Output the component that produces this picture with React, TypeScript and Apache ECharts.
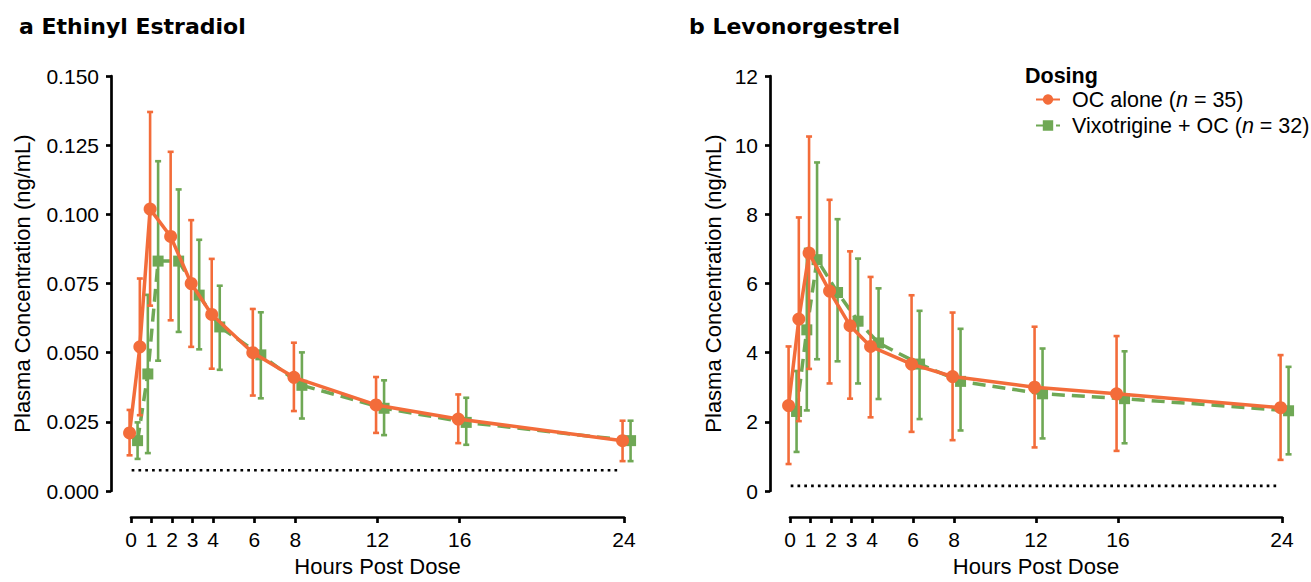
import React, { useEffect, useRef } from "react";
import * as echarts from "echarts";

// ---- data ----
const TIMES = [0, 0.5, 1, 2, 3, 4, 6, 8, 12, 16, 24];
const X_TICKS = [0, 1, 2, 3, 4, 6, 8, 12, 16, 24];

// Ethinyl estradiol (ng/mL)
const EE_OC_MEAN = [0.021, 0.0521, 0.1019, 0.092, 0.075, 0.0638, 0.05, 0.0411, 0.0311, 0.026, 0.0182];
const EE_OC_UPPER = [0.0293, 0.0768, 0.137, 0.1226, 0.0979, 0.0839, 0.0658, 0.0536, 0.0412, 0.0349, 0.0254];
const EE_OC_LOWER = [0.0129, 0.0274, 0.067, 0.0617, 0.0521, 0.0442, 0.0345, 0.0289, 0.021, 0.0173, 0.0108];
const EE_VX_MEAN = [0.0182, 0.0423, 0.0831, 0.0831, 0.0708, 0.0593, 0.0492, 0.0382, 0.0299, 0.0248, 0.0182];
const EE_VX_UPPER = [0.0248, 0.0709, 0.1192, 0.109, 0.0908, 0.0742, 0.0646, 0.0501, 0.04, 0.0337, 0.0254];
const EE_VX_LOWER = [0.0116, 0.0137, 0.0471, 0.0575, 0.0512, 0.0438, 0.0335, 0.0262, 0.0202, 0.0167, 0.0108];
const EE_LLOQ = 0.0075;

// Levonorgestrel (ng/mL)
const LNG_OC_MEAN = [2.47, 4.97, 6.88, 5.78, 4.78, 4.18, 3.67, 3.31, 3.0, 2.81, 2.41];
const LNG_OC_UPPER = [4.18, 7.91, 10.25, 8.42, 6.93, 6.19, 5.66, 5.16, 4.75, 4.48, 3.93];
const LNG_OC_LOWER = [0.78, 2.02, 3.53, 3.11, 2.67, 2.13, 1.71, 1.47, 1.26, 1.16, 0.9];
const LNG_VX_MEAN = [2.3, 4.66, 6.69, 5.74, 4.91, 4.28, 3.67, 3.17, 2.81, 2.67, 2.32];
const LNG_VX_UPPER = [3.47, 7.0, 9.5, 7.86, 6.72, 5.86, 5.21, 4.69, 4.12, 4.04, 3.59];
const LNG_VX_LOWER = [1.13, 2.33, 3.81, 3.75, 3.11, 2.66, 2.08, 1.75, 1.52, 1.38, 1.06];
const LNG_LLOQ = 0.15;

const SERIES_OC = "OC alone";
const SERIES_VX = "Vixotrigine + OC";
const TITLE_A = "a Ethinyl Estradiol";
const TITLE_B = "b Levonorgestrel";
const Y_NAME = "Plasma Concentration (ng/mL)";
const X_NAME = "Hours Post Dose";

// ---- style ----
const ORANGE = "#F36C3A";
const GREEN = "#6FA855";
const FONT = "'Liberation Sans', Arial, Helvetica, sans-serif";
const OC_SHIFT = -0.07; // horizontal nudge so the two groups do not overlap
const VX_SHIFT = 0.32;
const LLOQ_FROM = -0.63;
const LLOQ_TO = 23.8;

const pts = (mean: number[], shift: number) => TIMES.map((t, i) => [t + shift, mean[i]]);
const bars = (lo: number[], hi: number[], shift: number) =>
  TIMES.map((t, i) => [t + shift, lo[i], hi[i]]);

function errorBar(color: string) {
  return (_params: any, api: any) => {
    const x = api.value(0);
    const lo = api.coord([x, api.value(1)]);
    const hi = api.coord([x, api.value(2)]);
    const hw = 3;
    const style = { stroke: color, lineWidth: 2.6 };
    return {
      type: "group",
      children: [
        { type: "line", shape: { x1: hi[0], y1: hi[1], x2: lo[0], y2: lo[1] }, style },
        { type: "line", shape: { x1: hi[0] - hw, y1: hi[1], x2: hi[0] + hw, y2: hi[1] }, style },
        { type: "line", shape: { x1: lo[0] - hw, y1: lo[1], x2: lo[0] + hw, y2: lo[1] }, style },
      ],
    };
  };
}

function panelSeries(
  idx: number,
  oc: [number[], number[], number[]],
  vx: [number[], number[], number[]],
  lloq: number
) {
  const common = { xAxisIndex: idx, yAxisIndex: idx };
  return [
    {
      ...common,
      name: "LLOQ",
      type: "line",
      data: [
        [LLOQ_FROM, lloq],
        [LLOQ_TO, lloq],
      ],
      symbol: "none",
      clip: false,
      silent: true,
      lineStyle: { color: "#000", width: 2.7, type: [2.7, 4.1] },
      z: 1,
    },
    {
      ...common,
      name: SERIES_VX + " sd",
      type: "custom",
      renderItem: errorBar(GREEN),
      data: bars(vx[1], vx[2], VX_SHIFT),
      encode: { x: 0, y: [1, 2] },
      clip: false,
      silent: true,
      z: 2,
    },
    {
      ...common,
      name: SERIES_VX,
      type: "line",
      data: pts(vx[0], VX_SHIFT),
      symbol: "rect",
      symbolSize: 11,
      clip: false,
      itemStyle: { color: GREEN },
      lineStyle: { color: GREEN, width: 3.5, type: [13, 7] },
      z: 3,
    },
    {
      ...common,
      name: SERIES_OC + " sd",
      type: "custom",
      renderItem: errorBar(ORANGE),
      data: bars(oc[1], oc[2], OC_SHIFT),
      encode: { x: 0, y: [1, 2] },
      clip: false,
      silent: true,
      z: 4,
    },
    {
      ...common,
      name: SERIES_OC,
      type: "line",
      data: pts(oc[0], OC_SHIFT),
      symbol: "circle",
      symbolSize: 13,
      clip: false,
      itemStyle: { color: ORANGE },
      lineStyle: { color: ORANGE, width: 3.5 },
      z: 5,
    },
  ];
}

function xAxis(idx: number) {
  return {
    gridIndex: idx,
    type: "value",
    min: 0,
    max: 24,
    offset: 26,
    name: X_NAME,
    nameLocation: "middle",
    nameGap: 38,
    nameTextStyle: { fontFamily: FONT, fontSize: 22, color: "#000" },
    axisLine: { show: true, onZero: false, lineStyle: { color: "#000", width: 2.7 } },
    axisTick: { show: true, length: 6, customValues: X_TICKS, lineStyle: { color: "#000", width: 2.7 } },
    axisLabel: {
      customValues: X_TICKS,
      margin: 12,
      fontFamily: FONT,
      fontSize: 21,
      color: "#000",
    },
    splitLine: { show: false },
  };
}

function yAxis(idx: number, max: number, interval: number, digits: number, nameGap: number) {
  return {
    gridIndex: idx,
    type: "value",
    min: 0,
    max,
    interval,
    offset: 20,
    name: Y_NAME,
    nameLocation: "middle",
    nameGap,
    nameTextStyle: { fontFamily: FONT, fontSize: 22, color: "#000" },
    axisLine: { show: true, onZero: false, lineStyle: { color: "#000", width: 2.7 } },
    axisTick: { show: true, length: 5, lineStyle: { color: "#000", width: 2.7 } },
    axisLabel: {
      margin: 12,
      fontFamily: FONT,
      fontSize: 21,
      color: "#000",
      formatter: (v: number) => v.toFixed(digits),
    },
    splitLine: { show: false },
  };
}

export default function App() {
  const ref = useRef<HTMLDivElement>(null);
  useEffect(() => {
    document.body.style.margin = "0";
    if (!ref.current) return;
    const chart = echarts.init(ref.current, null, { renderer: "svg" });
    chart.setOption({
      animation: false,
      backgroundColor: "#fff",
      grid: [
        { left: 131, top: 76, width: 493, height: 420 },
        { left: 790, top: 76, width: 492, height: 420 },
      ],
      xAxis: [xAxis(0), xAxis(1)],
      yAxis: [yAxis(0, 0.15, 0.025, 3, 78), yAxis(1, 12, 2, 0, 46)],
      legend: {
        data: [SERIES_OC, SERIES_VX],
        orient: "vertical",
        left: 1035,
        top: 88.5,
        padding: 0,
        itemGap: 4,
        itemWidth: 24,
        itemHeight: 13,
        selectedMode: false,
        formatter: (name: string) =>
          name === SERIES_OC
            ? "{p|}{t|OC alone (}{i|n}{t| = 35)}"
            : "{p|}{t|Vixotrigine + OC (}{i|n}{t| = 32)}",
        textStyle: {
          fontFamily: FONT,
          fontSize: 21.5,
          color: "#000",
          rich: {
            p: { width: 7 },
            t: { fontFamily: FONT, fontSize: 21.5, color: "#000", lineHeight: 22 },
            i: { fontFamily: FONT, fontSize: 21.5, color: "#000", fontStyle: "italic", lineHeight: 22 },
          },
        },
      },
      graphic: [
        {
          type: "text",
          left: 19,
          top: 15,
          style: { text: TITLE_A, font: `bold 22px 'DejaVu Sans', ${FONT}`, fill: "#000" },
        },
        {
          type: "text",
          left: 689,
          top: 15,
          style: { text: TITLE_B, font: `bold 22px 'DejaVu Sans', ${FONT}`, fill: "#000" },
        },
        {
          type: "text",
          left: 1025,
          top: 65,
          style: { text: "Dosing", font: `bold 21.5px ${FONT}`, fill: "#000" },
        },
      ],
      series: [
        ...panelSeries(0, [EE_OC_MEAN, EE_OC_LOWER, EE_OC_UPPER], [EE_VX_MEAN, EE_VX_LOWER, EE_VX_UPPER], EE_LLOQ),
        ...panelSeries(
          1,
          [LNG_OC_MEAN, LNG_OC_LOWER, LNG_OC_UPPER],
          [LNG_VX_MEAN, LNG_VX_LOWER, LNG_VX_UPPER],
          LNG_LLOQ
        ),
      ],
    });
    return () => chart.dispose();
  }, []);
  return <div ref={ref} style={{ width: 1311, height: 582 }} />;
}
